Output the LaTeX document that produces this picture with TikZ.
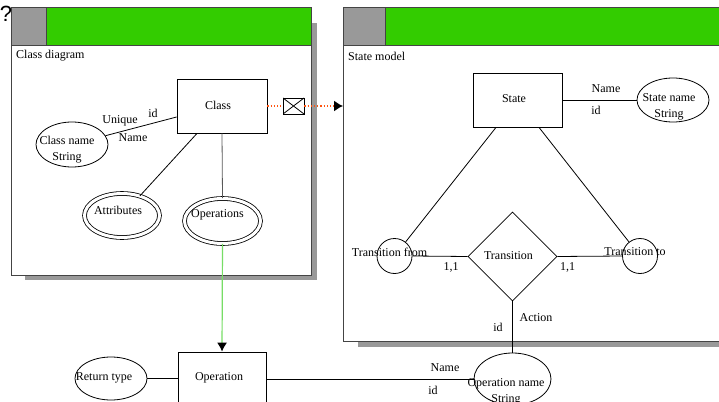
\documentclass[tikz,border=0pt]{standalone}
\usepackage{fontspec}
\setmainfont{Liberation Serif}
\newfontfamily\qfont{Liberation Sans}
\usetikzlibrary{arrows.meta,shapes.geometric,calc}
\definecolor{hdrgray}{HTML}{999999}
\definecolor{hdrgreen}{HTML}{33CC00}
\definecolor{shadowgray}{HTML}{999999}
\definecolor{framegray}{HTML}{444444}
\definecolor{flowgreen}{HTML}{77DD66}
\definecolor{linkorange}{HTML}{FF5511}
\tikzset{
  frame/.style={draw=framegray, line width=1pt, fill=white},
  shadow/.style={fill=shadowgray, draw=none},
  hdrblock/.style={draw=framegray, line width=1pt, fill=hdrgray},
  hdrband/.style={draw=framegray, line width=1pt, fill=hdrgreen},
  entbox/.style={draw, line width=.8pt, rectangle, inner sep=0pt},
  attrell/.style={draw, line width=.8pt, ellipse, inner sep=0pt},
  multiell/.style={attrell, double, double distance=3pt},
  relshape/.style={draw, line width=.8pt, diamond, inner sep=0pt, aspect=1},
  rolecirc/.style={draw, line width=.8pt, circle, inner sep=0pt},
  lbl/.style={inner sep=0pt},
  link/.style={line width=.8pt},
}
\begin{document}
\begin{tikzpicture}[x=1pt, y=-1pt, font=\fontsize{12}{16}\selectfont]
\useasboundingbox (0,0) rectangle (719,401);
\clip (0,0) rectangle (719,401);

% ---- Class diagram frame ----
\fill[shadow] (25,23) rectangle (317,280);
\draw[frame] (11,8) rectangle (311,275);
\draw[hdrblock] (11,8) rectangle (46,46);
\draw[hdrband] (46,8) rectangle (311,46);
\node[lbl, anchor=west] (cdtitle) at (16,56) {Class diagram};

% ---- State model frame ----
\fill[shadow] (358,23) rectangle (740,347);
\draw[frame] (343,8) rectangle (740,341);
\draw[hdrblock] (343,8) rectangle (385,46);
\draw[hdrband] (385,8) rectangle (740,46);
\node[lbl, anchor=west] (smtitle) at (348,56) {State model};
\coordinate (smleft) at (343,106);

\node[lbl, font=\qfont\fontsize{22}{22}\selectfont] (qmark) at (6,14) {?};

% ---- Class diagram contents ----
\node[entbox, minimum width=90pt, minimum height=54pt] (class) at (222,106) {};
\node[lbl] at (218,105) {Class};

\node[attrell, minimum width=72pt, minimum height=45pt] (cname) at (72,144.5) {};
\node[lbl, align=center] at (67,150) {Class name\\String};

\node[multiell, minimum width=75pt, minimum height=44pt] (attrs) at (122,215.5) {};
\node[lbl] at (118,210) {Attributes};

\node[multiell, minimum width=76pt, minimum height=45pt] (ops) at (222.5,221) {};
\node[lbl] at (217.5,215) {Operations};

\draw[link] (cname) -- ([yshift=-11pt]class.west);
\node[lbl] at (120,121) {Unique};
\node[lbl] at (153,113) {id};
\node[lbl] at (133,138) {Name};

\draw[link] (attrs) -- ([xshift=-25pt]class.south);
\draw[link, draw=black!65] (class.south) -- (ops.north);

% ---- State model contents ----
\node[entbox, minimum width=89pt, minimum height=54pt] (state) at (517.5,100) {};
\node[lbl] at (514,99) {State};

\node[attrell, minimum width=72pt, minimum height=44pt] (sname) at (673,100) {};
\node[lbl, align=center] at (669,107) {State name\\String};
\draw[link] (state.east) -- (sname.west);
\node[lbl] at (606,89) {Name};
\node[lbl] at (596,110) {id};

\node[relshape, minimum width=89pt, minimum height=89pt] (trans) at (512.5,256.5) {};
\node[lbl] at (508.5,256) {Transition};

\node[rolecirc, minimum size=35pt] (tfrom) at (394.5,256) {};
\node[rolecirc, minimum size=35pt] (tto) at (640,256) {};

\draw[link] ([xshift=-21.5pt]state.south) -- (tfrom);
\draw[link] ([xshift=21.5pt]state.south) -- (tto);
\draw[link] (tfrom.east) -- (trans.west);
\draw[link] (trans.east) -- (tto.west);

\node[lbl] at (389.5,252) {Transition from};
\node[lbl] at (635,252) {Transition to};
\node[lbl] at (451,267) {1,1};
\node[lbl] at (567.5,267) {1,1};

% ---- Operation entity ----
\node[entbox, minimum width=88pt, minimum height=54pt] (op) at (222,379) {};
\node[lbl] at (219,378) {Operation};

\node[attrell, minimum width=72pt, minimum height=43pt] (rtype) at (111,378.5) {};
\node[lbl] at (104,378) {Return type};
\draw[link] (rtype.east) -- (rtype.east -| op.west);

\node[attrell, minimum width=77pt, minimum height=52pt] (opname) at (512.5,379) {};
\draw[link] (op.east) -- (opname.west);
\draw[link] (trans.south) -- (opname.north);
\node[lbl, align=center] at (506,392) {Operation name\\String};
\node[lbl] at (445,368) {Name};
\node[lbl] at (433,390) {id};
\node[lbl] at (536,318) {Action};
\node[lbl] at (498,327) {id};

% ---- inter-diagram links ----
\draw[line width=1.2pt, draw=flowgreen, -{Latex[length=9pt, width=10pt, color=black]}] (ops.south) -- (op.north);

\node[draw, line width=.8pt, rectangle, minimum width=21pt, minimum height=16pt, inner sep=0pt,
      path picture={\draw[line width=.8pt] (path picture bounding box.north west) -- (path picture bounding box.south east)
                                            (path picture bounding box.south west) -- (path picture bounding box.north east);}]
  (env) at (293.5,106) {};
\draw[line width=1.2pt, draw=linkorange, dotted] (class.east) -- (env.west);
\draw[line width=1.2pt, draw=linkorange, dotted, -{Latex[length=9pt, width=11pt, color=black]}] (env.east) -- (smleft);
\end{tikzpicture}
\end{document}
